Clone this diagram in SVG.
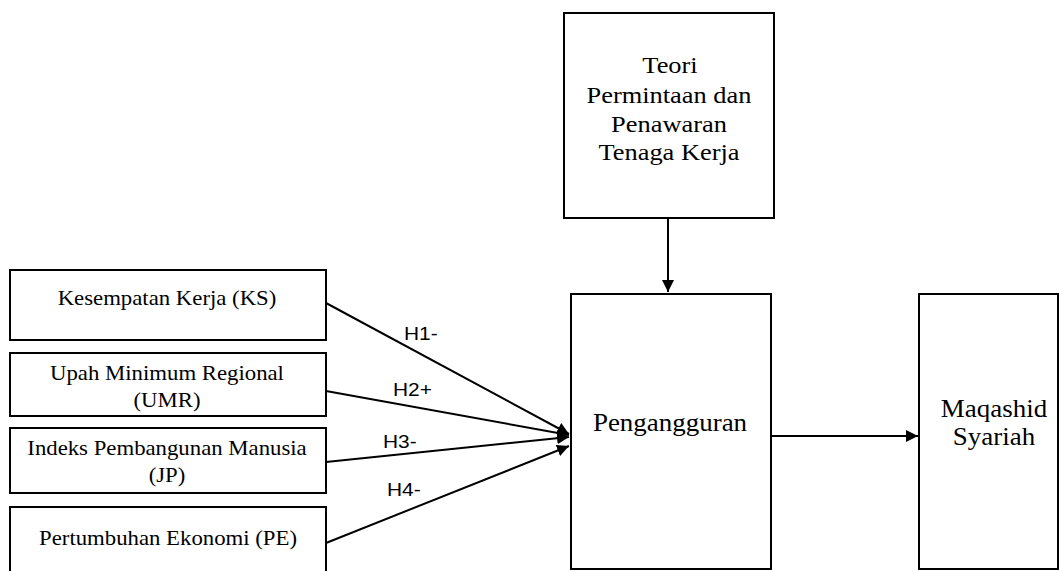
<svg xmlns="http://www.w3.org/2000/svg" width="1060" height="571" viewBox="0 0 1060 571">
<style>
.box{fill:#fff;stroke:#000;stroke-width:2}
.t{font-family:"Liberation Serif","Times New Roman",serif;fill:#000;text-anchor:middle}
.s{font-size:20.7px}
.m{font-size:24px}
.b{font-size:24.5px}
.l{font-family:"Liberation Sans",Arial,sans-serif;font-size:19px;fill:#000}
.c{stroke:#000;stroke-width:2;fill:none}
</style>
<defs>
<marker id="ah" viewBox="0 0 10 10" refX="10" refY="5" markerWidth="6" markerHeight="6" markerUnits="strokeWidth" orient="auto">
<path d="M0,0 L10,5 L0,10 Z" fill="#000"/>
</marker>
</defs>
<rect width="1060" height="571" fill="#fff"/>
<g id="node-teori">
<rect class="box" x="564" y="13" width="210" height="205"/>
<text class="t m" transform="translate(670,73) scale(1.1,1)">Teori</text>
<text class="t m" transform="translate(669,103) scale(1.1,1)">Permintaan dan</text>
<text class="t m" transform="translate(669,132) scale(1.1,1)">Penawaran</text>
<text class="t m" transform="translate(669,160) scale(1.1,1)">Tenaga Kerja</text>
</g>
<g id="node-ks">
<rect class="box" x="10" y="270" width="316" height="70"/>
<text class="t s" transform="translate(167,305) scale(1.1,1)">Kesempatan Kerja (KS)</text>
</g>
<g id="node-umr">
<rect class="box" x="10" y="353" width="316" height="63"/>
<text class="t s" transform="translate(167,380) scale(1.1,1)">Upah Minimum Regional</text>
<text class="t s" transform="translate(167,407) scale(1.1,1)">(UMR)</text>
</g>
<g id="node-jp">
<rect class="box" x="10" y="428" width="316" height="65"/>
<text class="t s" transform="translate(167,455) scale(1.1,1)">Indeks Pembangunan Manusia</text>
<text class="t s" transform="translate(167,482) scale(1.1,1)">(JP)</text>
</g>
<g id="node-pe">
<rect class="box" x="10" y="507" width="316" height="70"/>
<text class="t s" transform="translate(168,545) scale(1.1,1)">Pertumbuhan Ekonomi (PE)</text>
</g>
<g id="node-pengangguran">
<rect class="box" x="571" y="294" width="200" height="275"/>
<text class="t b" transform="translate(670,431) scale(1.1,1)">Pengangguran</text>
</g>
<g id="node-maqashid">
<rect class="box" x="919" y="294" width="139" height="275"/>
<text class="t b" transform="translate(994,417) scale(1.1,1)">Maqashid</text>
<text class="t b" transform="translate(994,445) scale(1.1,1)">Syariah</text>
</g>
<g id="connectors">
<line class="c" x1="668" y1="218" x2="668" y2="292" marker-end="url(#ah)"/>
<line class="c" x1="326" y1="303" x2="569" y2="434" marker-end="url(#ah)"/>
<line class="c" x1="326" y1="391" x2="569" y2="435" marker-end="url(#ah)"/>
<line class="c" x1="326" y1="462" x2="569" y2="437" marker-end="url(#ah)"/>
<line class="c" x1="326" y1="543" x2="569" y2="446" marker-end="url(#ah)"/>
<line class="c" x1="771" y1="436" x2="918" y2="436" marker-end="url(#ah)"/>
<text class="l" transform="translate(404,340) scale(1.1,1)">H1-</text>
<text class="l" transform="translate(393,396) scale(1.1,1)">H2+</text>
<text class="l" transform="translate(383,448) scale(1.1,1)">H3-</text>
<text class="l" transform="translate(387,496) scale(1.1,1)">H4-</text>
</g>
</svg>
